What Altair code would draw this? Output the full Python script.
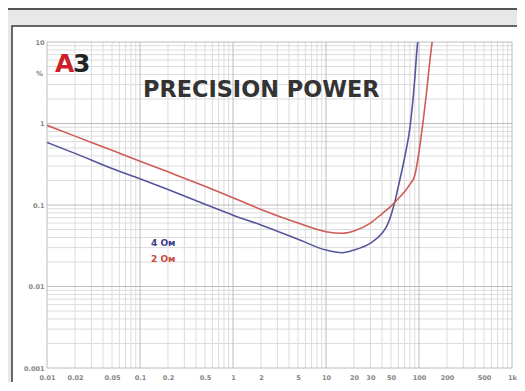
import altair as alt
import pandas as pd

# ---- data (THD+N %, vs output power W) ----
blue_power = [0.01, 0.02, 0.05, 0.1, 0.2, 0.5, 1, 2, 5, 10, 15, 20, 30, 40, 45, 50, 55, 60, 70, 80, 90, 95, 100]
blue_thd = [0.585, 0.43, 0.28, 0.21, 0.155, 0.102, 0.075, 0.057, 0.038, 0.028, 0.026, 0.028,
            0.034, 0.045, 0.055, 0.075, 0.11, 0.17, 0.38, 0.9, 3.5, 8, 14]

red_power = [0.01, 0.02, 0.05, 0.1, 0.2, 0.5, 1, 2, 5, 10, 15, 20, 30, 40, 50, 60, 70, 80, 90,
             100, 110, 120, 130, 140, 145]
red_thd = [0.95, 0.70, 0.47, 0.345, 0.255, 0.17, 0.123, 0.088, 0.06, 0.047, 0.045, 0.048,
           0.06, 0.078, 0.097, 0.12, 0.145, 0.18, 0.23, 0.45, 1.0, 2.3, 5.5, 11, 15]

series_names = ["4 Ом", "2 Ом"]
series_colors = ["#55559c", "#cf5b55"]

x_label_values = [0.01, 0.02, 0.05, 0.1, 0.2, 0.5, 1, 2, 5, 10, 20, 30, 50, 100, 200, 500, 1000]
x_label_texts = ["0.01", "0.02", "0.05", "0.1", "0.2", "0.5", "1", "2", "5", "10", "20", "30",
                 "50", "100", "200", "500", "1k"]
y_label_values = [0.001, 0.01, 0.1, 1, 10]
y_label_texts = ["0.001", "0.01", "0.1", "1", "10"]

x_decades = [0.01, 0.1, 1, 10, 100, 1000]
y_decades = [0.001, 0.01, 0.1, 1, 10]
x_minor = [m * d for d in x_decades[:-1] for m in range(2, 10)]
y_minor = [m * d for d in y_decades[:-1] for m in range(2, 10)]

df = pd.concat([
    pd.DataFrame({"P": blue_power, "thd": blue_thd, "s": series_names[0]}),
    pd.DataFrame({"P": red_power, "thd": red_thd, "s": series_names[1]}),
])


def label_expr(vals, texts):
    parts = [f"abs(datum.value-{v})<{v*0.001} ? '{t}' : " for v, t in zip(vals, texts)]
    return "".join(parts) + "''"


xs = alt.Scale(type="log", domain=[0.01, 1000], nice=False)
ys = alt.Scale(type="log", domain=[0.001, 10], nice=False)
FONT = "DejaVu Sans"

x_axis = alt.Axis(values=x_label_values, labelExpr=label_expr(x_label_values, x_label_texts),
                  grid=False, domain=False, ticks=False, title=None, labelFontSize=6.5,
                  labelColor="#858585", labelFont=FONT, labelPadding=6, labelFontWeight="bold",
                  labelOverlap=False, labelFlush=False, zindex=1)
y_axis = alt.Axis(values=y_label_values, labelExpr=label_expr(y_label_values, y_label_texts),
                  grid=False, domain=False, ticks=False, title=None, labelFontSize=6.5,
                  labelColor="#858585", labelFont=FONT, labelPadding=3, labelFontWeight="bold",
                  labelOverlap=False, labelFlush=False, zindex=1)

panel = alt.Chart(pd.DataFrame({"a": [0]})).mark_rect(
    fill="white", stroke="#3a3a3a", strokeWidth=1.5
).encode(x=alt.value(-35), x2=alt.value(800), y=alt.value(-16), y2=alt.value(600))

top_line = alt.Chart(pd.DataFrame({"a": [0]})).mark_rule(
    color="#555555", strokeWidth=2
).encode(x=alt.value(-60), x2=alt.value(800), y=alt.value(-33))

vminor = alt.Chart(pd.DataFrame({"v": x_minor})).mark_rule(color="#dcdcdc", strokeWidth=1).encode(
    x=alt.X("v:Q", scale=xs, axis=x_axis))
vmajor = alt.Chart(pd.DataFrame({"v": x_decades})).mark_rule(color="#bcbcbc", strokeWidth=1).encode(
    x=alt.X("v:Q", scale=xs, axis=x_axis))
hminor = alt.Chart(pd.DataFrame({"v": y_minor})).mark_rule(color="#dcdcdc", strokeWidth=1).encode(
    y=alt.Y("v:Q", scale=ys, axis=y_axis))
hmajor = alt.Chart(pd.DataFrame({"v": y_decades})).mark_rule(color="#bcbcbc", strokeWidth=1).encode(
    y=alt.Y("v:Q", scale=ys, axis=y_axis))

lines = alt.Chart(df).mark_line(strokeWidth=1.6, clip=True, interpolate="monotone").encode(
    x=alt.X("P:Q", scale=xs, axis=x_axis),
    y=alt.Y("thd:Q", scale=ys, axis=y_axis),
    color=alt.Color("s:N", scale=alt.Scale(domain=series_names, range=series_colors), legend=None),
    detail="s:N",
)

def txt(text, x, y, size, color, weight="bold", align="left", font=FONT):
    return alt.Chart(pd.DataFrame({"t": [text]})).mark_text(
        align=align, baseline="alphabetic", fontSize=size, fontWeight=weight, color=color, font=font
    ).encode(text="t:N", x=alt.value(x), y=alt.value(y))

logo_a = txt("A", 8, 30, 25, "#cc1f2a")
logo_3 = txt("3", 26, 30, 25, "#222222")
title = txt("PRECISION POWER", 96, 55, 22.4, "#333333")
unit = txt("%", -4, 34, 7, "#858585", align="right")
leg1 = txt(series_names[0], 104, 204, 9, "#3c3c8c")
leg2 = txt(series_names[1], 104, 220, 9, "#c8463e")

chart = alt.layer(
    panel, top_line, vminor, hminor, vmajor, hmajor, lines,
    logo_a, logo_3, title, unit, leg1, leg2
).properties(
    width=465, height=326,
    padding={"left": 39, "top": 34, "right": 5, "bottom": 14},
    autosize=alt.AutoSizeParams(type="none"),
    background="#e8e8e8",
).configure_view(stroke=None)

chart.save("out.html", embed_options={"renderer": "svg", "actions": False})
